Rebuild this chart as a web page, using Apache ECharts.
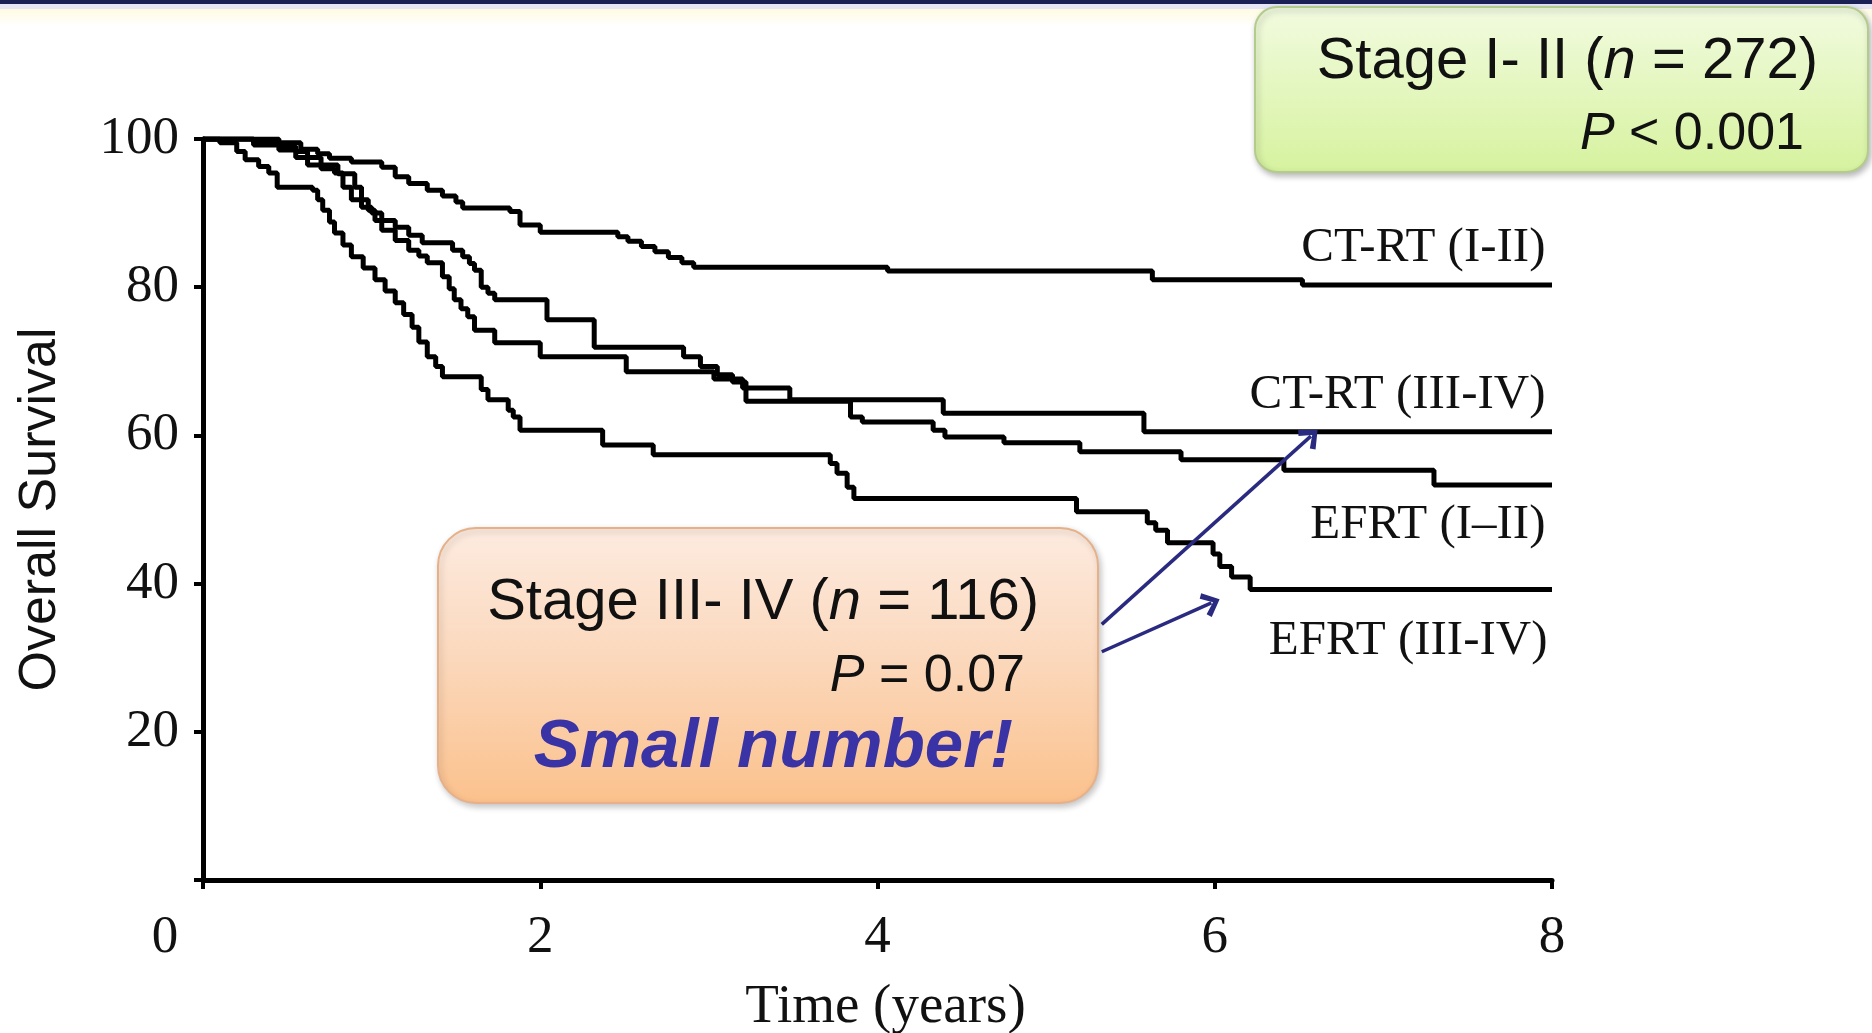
<!DOCTYPE html>
<html>
<head>
<meta charset="utf-8">
<script src="https://cdn.jsdelivr.net/npm/echarts@6/dist/echarts.min.js"></script>
<style>
html,body{margin:0;padding:0;background:#fff;}
#c{width:1872px;height:1033px;}
</style>
</head>
<body>
<div id="c"></div>
<script>
// ---------- data ----------
const xTicks = [0, 2, 4, 6, 8];
const yTicks = [0, 20, 40, 60, 80, 100];
const curveNames = ['CT-RT (I-II)', 'CT-RT (III-IV)', 'EFRT (I\u2013II)', 'EFRT (III-IV)'];

const ctrt12Time = [0, 0.45, 0.58, 0.68, 0.75, 0.88, 1.06, 1.14, 1.22, 1.33, 1.42, 1.5, 1.54, 1.82, 1.88, 2.0, 2.46, 2.52, 2.6, 2.68, 2.76, 2.84, 2.91, 4.06, 5.63, 6.52, 8.0];
const ctrt12Surv = [100, 99.5, 98.6, 98.0, 97.4, 96.9, 96.2, 94.9, 94.0, 93.1, 92.3, 91.5, 90.7, 90.2, 88.4, 87.4, 86.8, 86.2, 85.5, 84.8, 84.0, 83.3, 82.7, 82.2, 81.0, 80.3, 80.3];

const ctrt34Time = [0, 0.3, 0.45, 0.55, 0.62, 0.7, 0.78, 0.83, 0.88, 0.98, 1.02, 1.06, 1.14, 1.22, 1.28, 1.33, 1.42, 1.46, 1.49, 1.53, 1.57, 1.61, 1.73, 2.0, 2.51, 3.03, 3.2, 3.48, 4.39, 5.58, 8.0];
const ctrt34Surv = [100, 99.2, 98.5, 97.5, 96.5, 96.0, 95.4, 93.5, 91.8, 90.4, 89.0, 87.7, 86.3, 85.0, 84.2, 83.3, 81.4, 79.8, 78.3, 77.1, 76.0, 74.2, 72.5, 70.6, 68.6, 67.6, 66.4, 64.8, 63.0, 60.5, 60.5];

const efrt12Time = [0, 0.3, 0.45, 0.55, 0.62, 0.7, 0.8, 0.9, 0.94, 1.0, 1.06, 1.14, 1.22, 1.30, 1.48, 1.54, 1.58, 1.61, 1.65, 1.69, 1.73, 2.04, 2.32, 2.85, 2.95, 3.05, 3.14, 3.22, 3.84, 3.91, 4.33, 4.4, 4.75, 5.2, 5.8, 6.41, 7.3, 8.0];
const efrt12Surv = [100, 99.5, 99.0, 98.3, 97.5, 96.5, 95.3, 93.5, 90.8, 90.0, 89.0, 88.1, 87.0, 86.0, 85.0, 84.1, 83.2, 82.3, 80.0, 79.2, 78.3, 75.6, 71.9, 70.6, 69.3, 68.2, 67.2, 64.6, 62.5, 61.8, 60.7, 59.8, 59.0, 57.8, 56.7, 55.3, 53.3, 53.3];

const efrt34Time = [0, 0.1, 0.2, 0.25, 0.33, 0.39, 0.44, 0.65, 0.68, 0.71, 0.75, 0.78, 0.83, 0.88, 0.95, 1.02, 1.08, 1.14, 1.19, 1.24, 1.28, 1.33, 1.38, 1.42, 1.65, 1.69, 1.81, 1.84, 1.88, 2.37, 2.67, 3.72, 3.76, 3.82, 3.86, 5.18, 5.6, 5.65, 5.72, 5.99, 6.03, 6.1, 6.21, 8.0];
const efrt34Surv = [100, 99.5, 98.3, 97.2, 96.3, 95.4, 93.5, 93.1, 91.8, 90.4, 88.8, 87.3, 85.7, 84.1, 82.6, 81.0, 79.5, 77.9, 76.3, 74.6, 72.6, 70.6, 69.3, 67.9, 66.2, 64.8, 63.4, 62.5, 60.7, 58.7, 57.4, 56.2, 54.9, 53.0, 51.5, 49.7, 48.2, 47.2, 45.5, 44.0, 42.3, 40.9, 39.2, 39.2];

// annotation arrows (data coordinates: [years, survival])
const arrowToCtrt34 = [[5.33, 34.5], [6.57, 59.9]];
const arrowToEfrt34 = [[5.33, 30.8], [5.98, 37.4]];

// ---------- build ----------
function zip(t, s) { return t.map((v, i) => [v, s[i]]); }

const serif = 'Liberation Serif';
const sans = 'Liberation Sans';
const chevron = 'path://M0,12 L10,0 L20,12 L16.5,15 L10,6 L3.5,15 Z';

function curve(name, t, s, off) {
  const last = [t[t.length - 1], s[s.length - 1]];
  return {
    type: 'line', name: name, step: 'end', data: zip(t, s),
    symbol: 'none', silent: true, animation: false,
    lineStyle: { color: '#000', width: 5 },
    markPoint: {
      symbol: 'circle', symbolSize: 1, silent: true, animation: false,
      itemStyle: { color: 'rgba(0,0,0,0)' },
      data: [{ coord: last }],
      label: {
        show: true, formatter: name, position: [0, 0], offset: off,
        align: 'right', verticalAlign: 'middle',
        fontFamily: serif, fontSize: 49, color: '#111'
      }
    }
  };
}

const chart = echarts.init(document.getElementById('c'), null, { renderer: 'canvas' });

const s1 = curve(curveNames[0], ctrt12Time, ctrt12Surv, [-6, -36]);
const s2 = curve(curveNames[1], ctrt34Time, ctrt34Surv, [-6, -36]);
const s3 = curve(curveNames[2], efrt12Time, efrt12Surv, [-6, 41]);
const s4 = curve(curveNames[3], efrt34Time, efrt34Surv, [-4, 52]);
s2.markLine = {
  silent: true, animation: false,
  symbol: ['none', chevron], symbolSize: [26, 18],
  lineStyle: { color: '#2a2a80', width: 3.5, type: 'solid' },
  label: { show: false },
  data: [
    [{ coord: arrowToCtrt34[0] }, { coord: arrowToCtrt34[1] }],
    [{ coord: arrowToEfrt34[0] }, { coord: arrowToEfrt34[1] }]
  ]
};

const option = {
  backgroundColor: '#ffffff',
  animation: false,
  grid: { left: 203, right: 320, top: 139, bottom: 153, containLabel: false, outerBoundsMode: 'none' },
  xAxis: {
    type: 'value', min: xTicks[0], max: xTicks[xTicks.length - 1], interval: 2,
    name: 'Time (years)', nameLocation: 'middle', nameGap: 100,
    nameTextStyle: { fontFamily: serif, fontSize: 55, color: '#111', padding: [0, 0, 0, 16] },
    axisLine: { show: true, onZero: false, lineStyle: { color: '#000', width: 5 } },
    axisTick: { show: true, length: 9, lineStyle: { color: '#000', width: 4 } },
    splitLine: { show: false },
    axisLabel: {
      margin: 32, fontFamily: serif, fontSize: 53, color: '#111',
      formatter: v => (v === 0 ? '{z|0}' : String(v)),
      rich: { z: { fontFamily: serif, fontSize: 53, color: '#111', padding: [0, 76, 0, 0] } }
    }
  },
  yAxis: {
    type: 'value', min: yTicks[0], max: yTicks[yTicks.length - 1], interval: 20,
    name: 'Overall Survival', nameLocation: 'middle', nameGap: 136, nameRotate: 90,
    nameTextStyle: { fontFamily: sans, fontSize: 52, color: '#111' },
    axisLine: { show: true, onZero: false, lineStyle: { color: '#000', width: 5 } },
    axisTick: { show: true, length: 9, lineStyle: { color: '#000', width: 4 } },
    splitLine: { show: false },
    axisLabel: {
      margin: 24, fontFamily: serif, fontSize: 53, color: '#111',
      formatter: v => (v === 0 ? '' : String(v))
    }
  },
  graphic: [
    // slide header strip
    { type: 'rect', z: 0, shape: { x: 0, y: 0, width: 1872, height: 4 }, style: { fill: '#1c2155' } },
    { type: 'rect', z: 0, shape: { x: 0, y: 4, width: 1872, height: 5 }, style: { fill: '#e6e6f6' } },
    { type: 'rect', z: 0, shape: { x: 0, y: 9, width: 1872, height: 18 },
      style: { fill: new echarts.graphic.LinearGradient(0, 0, 0, 1, [{ offset: 0, color: '#fffbe2' }, { offset: 1, color: '#ffffff' }]) } },
    // Stage I-II box
    { type: 'rect', z: 10, shape: { x: 1255, y: 7, width: 613, height: 165, r: 22 },
      style: {
        fill: new echarts.graphic.LinearGradient(0, 0, 0, 1, [{ offset: 0, color: '#f2fbe0' }, { offset: 1, color: '#d6f29e' }]),
        stroke: '#b3cc8c', lineWidth: 2, shadowBlur: 6, shadowOffsetX: 2, shadowOffsetY: 3, shadowColor: 'rgba(0,0,0,0.28)'
      } },
    { type: 'text', z: 11, style: {
        x: 1818, y: 62, align: 'right', verticalAlign: 'middle',
        text: '{a|Stage I- II (}{i|n}{a| = 272)}',
        rich: { a: { fontFamily: sans, fontSize: 58, fill: '#111' }, i: { fontFamily: sans, fontSize: 58, fontStyle: 'italic', fill: '#111' } }
      } },
    { type: 'text', z: 11, style: {
        x: 1804, y: 135, align: 'right', verticalAlign: 'middle',
        text: '{i|P}{a| < 0.001}',
        rich: { a: { fontFamily: sans, fontSize: 52, fill: '#111' }, i: { fontFamily: sans, fontSize: 52, fontStyle: 'italic', fill: '#111' } }
      } },
    // Stage III-IV box
    { type: 'rect', z: 10, shape: { x: 438, y: 528, width: 660, height: 275, r: 38 },
      style: {
        fill: new echarts.graphic.LinearGradient(0, 0, 0, 1, [{ offset: 0, color: '#fdebe0' }, { offset: 0.45, color: '#fbd9be' }, { offset: 1, color: '#fbc18c' }]),
        stroke: '#e6b089', lineWidth: 2, shadowBlur: 6, shadowOffsetX: 2, shadowOffsetY: 3, shadowColor: 'rgba(0,0,0,0.22)'
      } },
    { type: 'text', z: 11, style: {
        x: 1039, y: 603, align: 'right', verticalAlign: 'middle',
        text: '{a|Stage III- IV (}{i|n}{a| = 116)}',
        rich: { a: { fontFamily: sans, fontSize: 58, fill: '#111' }, i: { fontFamily: sans, fontSize: 58, fontStyle: 'italic', fill: '#111' } }
      } },
    { type: 'text', z: 11, style: {
        x: 1025, y: 677, align: 'right', verticalAlign: 'middle',
        text: '{i|P}{a| = 0.07}',
        rich: { a: { fontFamily: sans, fontSize: 52, fill: '#111' }, i: { fontFamily: sans, fontSize: 52, fontStyle: 'italic', fill: '#111' } }
      } },
    { type: 'text', z: 11, style: {
        x: 1013, y: 748, align: 'right', verticalAlign: 'middle',
        text: 'Small number!', fontFamily: sans, fontSize: 69, fontStyle: 'italic', fontWeight: 'bold', fill: '#3a33a6'
      } }
  ],
  series: [s1, s2, s3, s4]
};
chart.setOption(option);
</script>
</body>
</html>
